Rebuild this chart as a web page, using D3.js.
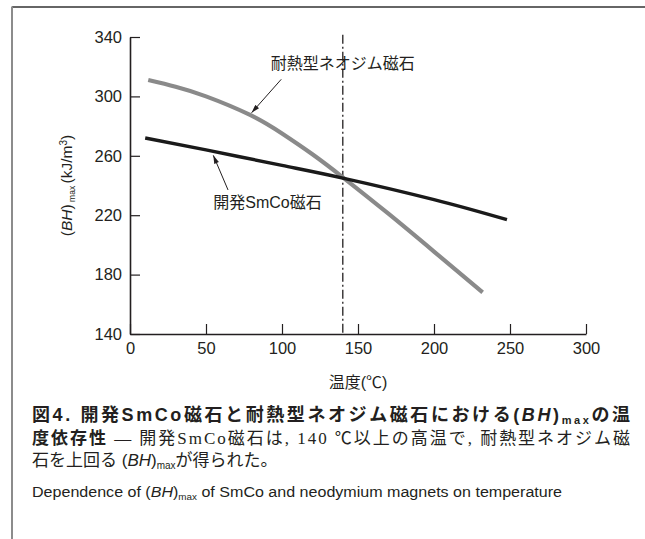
<!DOCTYPE html>
<html><head><meta charset="utf-8">
<script src="https://cdn.jsdelivr.net/npm/d3@7"></script>
<style>
html,body{margin:0;padding:0;background:#fff;}
svg{display:block;}
text{font-family:"Liberation Sans","Noto Sans CJK JP",sans-serif;fill:#231f20;}
</style></head>
<body>
<svg id="chart" width="645" height="539"></svg>
<script>
// ---- data ----
const xTicks = [0, 50, 100, 150, 200, 250, 300];
const yTicks = [140, 180, 220, 260, 300, 340];
const smcoTemp = [10, 50, 100, 140, 200, 248];
const smcoBH   = [272, 264, 253.5, 245, 230.5, 217];
const neoTemp  = [12, 30, 50, 79, 100, 120, 140, 170, 200, 232];
const neoBH    = [311, 306.5, 300, 287.5, 275, 261, 245.5, 221, 195.5, 168];
const markerTemp = 140;
const neoLabel = "耐熱型ネオジム磁石";
const smcoLabel = "開発SmCo磁石";
const xTitle = "温度(℃)";

const svg = d3.select("#chart");
const x = d3.scaleLinear().domain([0, 300]).range([130, 586]);
const y = d3.scaleLinear().domain([140, 340]).range([334, 37]);

// frame
svg.append("line").attr("x1", 12).attr("x2", 645).attr("y1", 7).attr("y2", 7)
  .attr("stroke", "#333").attr("stroke-width", 1.5);
svg.append("line").attr("x1", 12).attr("x2", 12).attr("y1", 6.5).attr("y2", 539)
  .attr("stroke", "#8c8c8c").attr("stroke-width", 2);

// axes
const yAxis = svg.append("g").attr("transform", `translate(${x(0)},0)`)
  .call(d3.axisLeft(y).tickValues(yTicks).tickSizeInner(-10).tickSizeOuter(0).tickPadding(8).tickFormat(d3.format("d")));
const xAxis = svg.append("g").attr("transform", `translate(0,${y(140)})`)
  .call(d3.axisBottom(x).tickValues(xTicks).tickSizeInner(-10).tickSizeOuter(0).tickPadding(8).tickFormat(d3.format("d")));
[xAxis, yAxis].forEach(g => {
  g.select(".domain").attr("stroke", "#231f20").attr("stroke-width", 1.6);
  g.selectAll(".tick line").attr("stroke", "#231f20").attr("stroke-width", 1.2);
  g.selectAll(".tick text").attr("font-size", 16.5).attr("font-family", "Liberation Sans, sans-serif").attr("fill", "#231f20");
});

// vertical dash-dot line
svg.append("line").attr("x1", x(markerTemp)).attr("x2", x(markerTemp))
  .attr("y1", y(341.5)).attr("y2", y(140))
  .attr("stroke", "#231f20").attr("stroke-width", 1.3).attr("stroke-dasharray", "9,3,2,3");

// curves
const line = d3.line().x(d => x(d[0])).y(d => y(d[1])).curve(d3.curveNatural);
svg.append("path").datum(neoTemp.map((t, i) => [t, neoBH[i]]))
  .attr("d", line).attr("fill", "none").attr("stroke", "#8a8a8a").attr("stroke-width", 4.2);
svg.append("path").datum(smcoTemp.map((t, i) => [t, smcoBH[i]]))
  .attr("d", line).attr("fill", "none").attr("stroke", "#1a1a1a").attr("stroke-width", 3.4);

// arrow marker
svg.append("defs").append("marker").attr("id", "arr")
  .attr("viewBox", "0 0 10 6").attr("refX", 10).attr("refY", 3)
  .attr("markerWidth", 10).attr("markerHeight", 5).attr("markerUnits", "userSpaceOnUse")
  .attr("orient", "auto")
  .append("path").attr("d", "M0,0 L10,3 L0,6 Z").attr("fill", "#231f20");

const annotations = [
  {label: neoLabel, tx: 140, ty: 318.5, from: [99.5, 311.5], to: [80, 289]},
  {label: smcoLabel, tx: 90.5, ty: 225, from: [64.5, 237], to: [54.8, 260.3]}
];
annotations.forEach(a => {
  svg.append("line").attr("x1", x(a.from[0])).attr("y1", y(a.from[1]))
    .attr("x2", x(a.to[0])).attr("y2", y(a.to[1]))
    .attr("stroke", "#231f20").attr("stroke-width", 1).attr("marker-end", "url(#arr)");
  svg.append("text").attr("x", x(a.tx)).attr("y", y(a.ty)).attr("text-anchor", "middle")
    .attr("font-size", 16).attr("font-family", "Liberation Sans, Noto Sans CJK JP, sans-serif")
    .text(a.label);
});

// axis titles
svg.append("text").attr("x", (x(0) + x(300)) / 2).attr("y", 388).attr("text-anchor", "middle")
  .attr("font-size", 16).attr("font-family", "Noto Sans CJK JP, sans-serif").text(xTitle);

const yl = svg.append("text").attr("transform", `translate(72,${(y(140) + y(340)) / 2}) rotate(-90)`)
  .attr("text-anchor", "middle").attr("font-size", 15.5);
yl.append("tspan").text("(");
yl.append("tspan").attr("font-style", "italic").text("BH");
yl.append("tspan").text(")");
yl.append("tspan").attr("font-size", 8.5).attr("dy", 3).text(" max ");
yl.append("tspan").attr("dy", -3).text("(kJ/m");
yl.append("tspan").attr("font-size", 10).attr("dy", -5).text("3");
yl.append("tspan").attr("dy", 5).text(")");

// caption
const cap1 = svg.append("text").attr("x", 32).attr("y", 421).attr("font-size", 18)
  .attr("font-weight", "bold").attr("font-family", "Noto Sans CJK JP, sans-serif")
  .attr("textLength", 598).attr("lengthAdjust", "spacing");
cap1.append("tspan").text("図4.  開発SmCo磁石と耐熱型ネオジム磁石における(");
cap1.append("tspan").attr("font-style", "italic").text("BH");
cap1.append("tspan").text(")");
cap1.append("tspan").attr("font-size", 11).attr("dy", 3).text("max");
cap1.append("tspan").attr("dy", -3).text("の温");

const cap2 = svg.append("text").attr("x", 32).attr("y", 444).attr("font-size", 17)
  .attr("textLength", 598).attr("lengthAdjust", "spacing");
cap2.append("tspan").attr("font-weight", "bold").attr("font-family", "Noto Sans CJK JP, sans-serif").text("度依存性");
cap2.append("tspan").attr("font-family", "Liberation Serif, Noto Sans CJK JP, serif")
  .text(" — 開発SmCo磁石は, 140 ℃以上の高温で, 耐熱型ネオジム磁");

const cap3 = svg.append("text").attr("x", 32).attr("y", 466).attr("font-size", 17)
  .attr("font-family", "Liberation Serif, Noto Sans CJK JP, serif");
cap3.append("tspan").text("石を上回る (");
cap3.append("tspan").attr("font-style", "italic").text("BH");
cap3.append("tspan").text(")");
cap3.append("tspan").attr("font-size", 10).attr("dy", 3).text("max");
cap3.append("tspan").attr("dy", -3).text("が得られた。");

const cap4 = svg.append("text").attr("x", 32).attr("y", 497).attr("font-size", 15.5)
  .attr("font-family", "Liberation Sans Narrow, Liberation Sans, sans-serif")
  .attr("textLength", 530).attr("lengthAdjust", "spacingAndGlyphs");
cap4.append("tspan").text("Dependence of (");
cap4.append("tspan").attr("font-style", "italic").text("BH");
cap4.append("tspan").text(")");
cap4.append("tspan").attr("font-size", 9.5).attr("dy", 3).text("max");
cap4.append("tspan").attr("dy", -3).text(" of SmCo and neodymium magnets on temperature");
</script>
</body></html>
